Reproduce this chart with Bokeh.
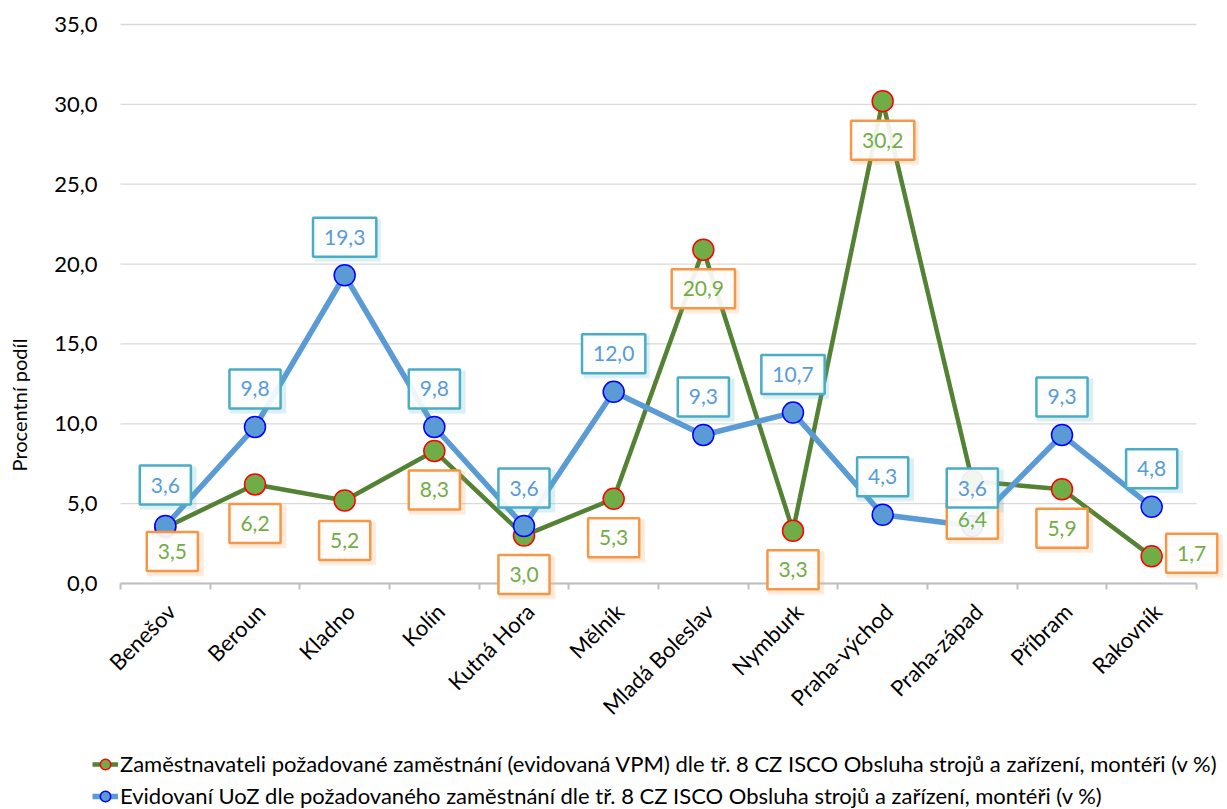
import math
from bokeh.plotting import figure
from bokeh.models import Range1d, FixedTicker, Label, Legend, LegendItem, ColumnDataSource
from bokeh.embed import file_html
from bokeh.resources import INLINE

# ---------------- data ----------------
districts = ["Benešov", "Beroun", "Kladno", "Kolín", "Kutná Hora", "Mělník",
             "Mladá Boleslav", "Nymburk", "Praha-východ", "Praha-západ",
             "Příbram", "Rakovník"]
vpm_share = [3.5, 6.2, 5.2, 8.3, 3.0, 5.3, 20.9, 3.3, 30.2, 6.4, 5.9, 1.7]
uoz_share = [3.6, 9.8, 19.3, 9.8, 3.6, 12.0, 9.3, 10.7, 4.3, 3.6, 9.3, 4.8]
y_ticks = [0, 5, 10, 15, 20, 25, 30, 35]
y_tick_labels = ["0,0", "5,0", "10,0", "15,0", "20,0", "25,0", "30,0", "35,0"]
vpm_name = ("Zaměstnavateli požadované zaměstnání (evidovaná VPM) dle tř. 8 CZ ISCO "
            "Obsluha strojů a zařízení, montéři (v %)")
uoz_name = ("Evidovaní UoZ dle požadovaného zaměstnání dle tř. 8 CZ ISCO "
            "Obsluha strojů a zařízení, montéři (v %)")
y_title = "Procentní podíl"

# ---------------- layout / style ----------------
W, H = 1227, 809
PLOT_LEFT, PLOT_RIGHT, PLOT_TOP, PLOT_BOTTOM = 120, 1196, 24, 583
Y_MAX = 35
N = len(districts)
CAT_LABEL_SHIFT_PX = 6

# label placement (screen px offsets from the point; +x right, +y up)
vpm_label_dx = [7, 0, 0, 0, 0, 0, 0, 0, 0, 0, 0, 40]
vpm_label_dy = [-24, -39, -40, -39, -39, -39, -39, -39, -39, -38, -39, 3]
uoz_label_dy = [41, 38, 38, 38, 38, 38, 38, 38, 38, 38, 38, 38]

FONT = "Lato"
GREEN_LINE = "#548235"
GREEN_FILL = "#70AD47"
BLUE = "#5B9BD5"
BLUE_BORDER = "#4BACC6"
ORANGE_BORDER = "#F79646"
GRID = "#D9D9D9"
AXIS = "#BFBFBF"

px_x = (PLOT_RIGHT - PLOT_LEFT) / N
px_y = (PLOT_BOTTOM - PLOT_TOP) / Y_MAX
x_range = Range1d(-PLOT_LEFT / px_x, N + (W - PLOT_RIGHT) / px_x)
y_range = Range1d(-(H - PLOT_BOTTOM) / px_y, Y_MAX + PLOT_TOP / px_y)

xs = [i + 0.5 for i in range(N)]
src = ColumnDataSource(dict(x=xs, vpm=vpm_share, uoz=uoz_share))
grid_src = ColumnDataSource(dict(x0=[0] * len(y_ticks), x1=[N] * len(y_ticks), y=y_ticks))

p = figure(width=W, height=H, output_backend="svg", toolbar_location=None,
           x_range=x_range, y_range=y_range, min_border=0)
p.outline_line_color = None
p.background_fill_color = "white"
p.xgrid.visible = False
p.ygrid.visible = False

# horizontal grid lines across the plot area only
p.segment("x0", "y", "x1", "y", source=grid_src, line_color=GRID, line_width=1.3)

# y axis (fixed at the left edge of the plot area)
yax = p.yaxis[0]
yax.fixed_location = 0
yax.ticker = FixedTicker(ticks=y_ticks, minor_ticks=[])
yax.major_label_overrides = {t: l for t, l in zip(y_ticks, y_tick_labels)}
yax.axis_line_color = None
yax.major_tick_line_color = None
yax.minor_tick_line_color = None
yax.major_tick_out = 0
yax.major_tick_in = 0
yax.major_label_standoff = 23
yax.major_label_text_font = FONT
yax.major_label_text_font_size = "22px"
yax.major_label_text_color = "#000000"
yax.axis_label = y_title
yax.axis_label_text_font = FONT
yax.axis_label_text_font_size = "20px"
yax.axis_label_text_font_style = "normal"
yax.axis_label_text_color = "#000000"
yax.axis_label_standoff = 20

# x axis (fixed at y = 0): labels near category centres, tick marks at boundaries
label_ticks = [x + CAT_LABEL_SHIFT_PX / px_x for x in xs]
xax = p.xaxis[0]
xax.fixed_location = 0
xax.bounds = (0, N)
xax.ticker = FixedTicker(ticks=label_ticks, minor_ticks=list(range(N + 1)))
xax.major_label_overrides = {t: name for t, name in zip(label_ticks, districts)}
xax.major_label_orientation = math.pi / 4
xax.major_label_standoff = 18
xax.major_label_text_font = FONT
xax.major_label_text_font_size = "22px"
xax.major_label_text_color = "#000000"
xax.axis_line_color = AXIS
xax.axis_line_width = 2
xax.major_tick_line_color = None
xax.major_tick_out = 0
xax.major_tick_in = 0
xax.minor_tick_line_color = AXIS
xax.minor_tick_line_width = 2
xax.minor_tick_out = 6
xax.minor_tick_in = 0

# series
g_line = p.line("x", "vpm", source=src, line_color=GREEN_LINE, line_width=4.5,
                line_join="round")
g_pts = p.scatter("x", "vpm", source=src, size=21, fill_color=GREEN_FILL,
                  line_color="#FF0000", line_width=1.5)
b_line = p.line("x", "uoz", source=src, line_color=BLUE, line_width=5.5,
                line_join="round")
b_pts = p.scatter("x", "uoz", source=src, size=21, fill_color=BLUE,
                  line_color="#0000FF", line_width=1.5)


def fmt(v):
    return f"{v:.1f}".replace(".", ",")


# soft shadows of the label boxes (down-right), then the boxes themselves
def shadow_source(values, dxs, dys):
    sx, sy, sw = [], [], []
    for i, v in enumerate(values):
        sx.append(xs[i] + (dxs[i] + 3) / px_x)
        sy.append(v + (dys[i] - 3) / px_y)
        sw.append(9.5 * len(fmt(v)) + 28)
    return ColumnDataSource(dict(x=sx, y=sy, w=sw))


for vals, dxs, dys, col in [(vpm_share, vpm_label_dx, vpm_label_dy, ORANGE_BORDER),
                            (uoz_share, [0] * N, uoz_label_dy, BLUE_BORDER)]:
    s = shadow_source(vals, dxs, dys)
    p.rect("x", "y", width="w", height=44, width_units="screen", height_units="screen",
           source=s, fill_color=col, fill_alpha=0.10, line_color=None)
    p.rect("x", "y", width="w", height=42, width_units="screen", height_units="screen",
           source=s, fill_color=col, fill_alpha=0.10, line_color=None)


def add_box_label(x, y, dx, dy, text, color, border):
    p.add_layout(Label(x=x, y=y, x_offset=dx, y_offset=dy, text=text,
                       text_align="center", text_baseline="middle",
                       text_font=FONT, text_font_size="21px", text_color=color,
                       background_fill_color="white", background_fill_alpha=0.9,
                       border_line_color=border, border_line_width=2.5,
                       padding=dict(left=11, right=11, top=12, bottom=12)))


for i, v in enumerate(vpm_share):
    add_box_label(xs[i], v, vpm_label_dx[i], vpm_label_dy[i], fmt(v), GREEN_FILL, ORANGE_BORDER)
for i, v in enumerate(uoz_share):
    add_box_label(xs[i], v, 0, uoz_label_dy[i], fmt(v), BLUE, BLUE_BORDER)

legend = Legend(items=[LegendItem(label=vpm_name, renderers=[g_line, g_pts]),
                       LegendItem(label=uoz_name, renderers=[b_line, b_pts])],
                location=(92, 0), orientation="vertical", padding=0, margin=0,
                spacing=5, glyph_width=26, glyph_height=26, label_height=26,
                label_standoff=2, label_text_font=FONT, label_text_font_size="22px",
                label_text_color="#000000", border_line_alpha=0,
                background_fill_alpha=0)
p.add_layout(legend)

open("out.html", "w").write(file_html(p, INLINE))
